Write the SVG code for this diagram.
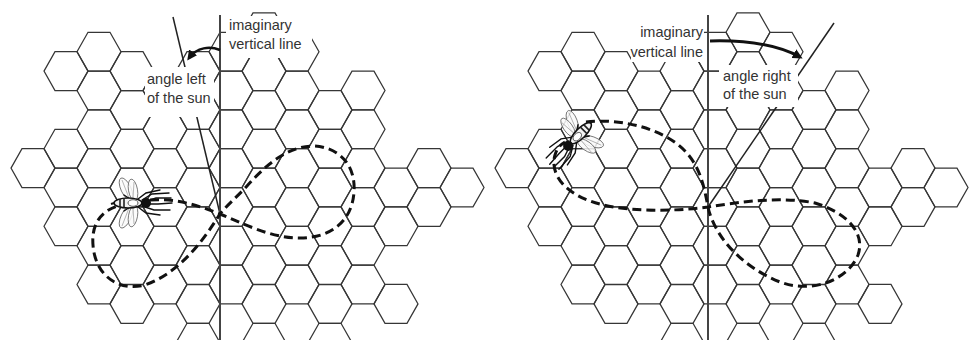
<svg xmlns="http://www.w3.org/2000/svg" xmlns:xlink="http://www.w3.org/1999/xlink" width="969" height="340" viewBox="0 0 969 340">
  <style>
    .cell { fill: none; stroke: #363636; stroke-width: 1.25; }
    .vline { stroke: #444; stroke-width: 2; fill: none; }
    .angle { stroke: #222; stroke-width: 1.5; fill: none; }
    .arrow { stroke: #111; fill: none; }
    .dance { stroke: #111; stroke-width: 3; fill: none; stroke-dasharray: 9 5; }
    .mask { fill: #fff; stroke: none; }
    .lbl { font-family: "Liberation Sans", Arial, sans-serif; font-size: 14.5px; fill: #333; }
    .wing { fill: #fafafa; fill-opacity: 0.85; stroke: #666; stroke-width: 0.8; }
    .leg { stroke: #111; stroke-width: 1.4; fill: none; stroke-linecap: round; }
  </style>
  <defs>
    <marker id="head" viewBox="0 0 10 10" refX="7" refY="5" markerWidth="10" markerHeight="10" markerUnits="userSpaceOnUse" orient="auto">
      <path d="M0,0 L10,5 L0,10 z" fill="#111"/>
    </marker>
    <!-- one flat-topped cell -->
    <path id="hex" d="M-22,0 L-11,-19.4 L11,-19.4 L22,0 L11,19.4 L-11,19.4 Z"/>
    <!-- the comb, column by column -->
    <g id="comb" class="cell">
      <use href="#hex" x="33" y="168.1"/>
      <use href="#hex" x="66" y="71.1"/><use href="#hex" x="66" y="148.7"/><use href="#hex" x="66" y="187.5"/><use href="#hex" x="66" y="226.3"/>
      <use href="#hex" x="99" y="51.7"/><use href="#hex" x="99" y="90.5"/><use href="#hex" x="99" y="129.3"/><use href="#hex" x="99" y="168.1"/><use href="#hex" x="99" y="206.9"/><use href="#hex" x="99" y="245.7"/><use href="#hex" x="99" y="284.5"/>
      <use href="#hex" x="132" y="71.1"/><use href="#hex" x="132" y="109.9"/><use href="#hex" x="132" y="148.7"/><use href="#hex" x="132" y="187.5"/><use href="#hex" x="132" y="226.3"/><use href="#hex" x="132" y="265.1"/><use href="#hex" x="132" y="303.9"/>
      <use href="#hex" x="165" y="90.5"/><use href="#hex" x="165" y="129.3"/><use href="#hex" x="165" y="168.1"/><use href="#hex" x="165" y="206.9"/><use href="#hex" x="165" y="245.7"/><use href="#hex" x="165" y="284.5"/>
      <use href="#hex" x="198" y="71.1"/><use href="#hex" x="198" y="109.9"/><use href="#hex" x="198" y="148.7"/><use href="#hex" x="198" y="187.5"/><use href="#hex" x="198" y="226.3"/><use href="#hex" x="198" y="265.1"/><use href="#hex" x="198" y="303.9"/><use href="#hex" x="198" y="342.7"/>
      <use href="#hex" x="231" y="51.7"/><use href="#hex" x="231" y="90.5"/><use href="#hex" x="231" y="129.3"/><use href="#hex" x="231" y="168.1"/><use href="#hex" x="231" y="206.9"/><use href="#hex" x="231" y="245.7"/><use href="#hex" x="231" y="284.5"/>
      <use href="#hex" x="264" y="32.3"/><use href="#hex" x="264" y="71.1"/><use href="#hex" x="264" y="109.9"/><use href="#hex" x="264" y="148.7"/><use href="#hex" x="264" y="187.5"/><use href="#hex" x="264" y="226.3"/><use href="#hex" x="264" y="265.1"/><use href="#hex" x="264" y="303.9"/><use href="#hex" x="264" y="342.7"/>
      <use href="#hex" x="297" y="51.7"/><use href="#hex" x="297" y="90.5"/><use href="#hex" x="297" y="129.3"/><use href="#hex" x="297" y="168.1"/><use href="#hex" x="297" y="206.9"/><use href="#hex" x="297" y="245.7"/><use href="#hex" x="297" y="284.5"/>
      <use href="#hex" x="330" y="109.9"/><use href="#hex" x="330" y="148.7"/><use href="#hex" x="330" y="187.5"/><use href="#hex" x="330" y="226.3"/><use href="#hex" x="330" y="265.1"/><use href="#hex" x="330" y="303.9"/><use href="#hex" x="330" y="342.7"/>
      <use href="#hex" x="363" y="90.5"/><use href="#hex" x="363" y="129.3"/><use href="#hex" x="363" y="168.1"/><use href="#hex" x="363" y="206.9"/><use href="#hex" x="363" y="245.7"/><use href="#hex" x="363" y="284.5"/>
      <use href="#hex" x="396" y="187.5"/><use href="#hex" x="396" y="226.3"/><use href="#hex" x="396" y="303.9"/>
      <use href="#hex" x="429" y="168.1"/><use href="#hex" x="429" y="206.9"/>
      <use href="#hex" x="462" y="187.5"/>
    </g>
    <!-- a worker bee, head towards +x, thorax at the origin -->
    <g id="bee">
      <ellipse class="wing" cx="-6" cy="-14" rx="12" ry="5" transform="rotate(65 -6 -14)"/>
      <ellipse class="wing" cx="1" cy="-13" rx="11" ry="4.5" transform="rotate(80 1 -13)"/>
      <ellipse class="wing" cx="-6" cy="14" rx="12" ry="5" transform="rotate(-65 -6 14)"/>
      <ellipse class="wing" cx="1" cy="13" rx="11" ry="4.5" transform="rotate(-80 1 13)"/>
      <path d="M-3,-5 L-10,-23 M1,-5 L2,-21 M-3,5 L-10,23 M1,5 L2,21" stroke="#888" stroke-width="0.6" fill="none"/>
      <path class="leg" d="M10,-3 L20,-9 L37,-10 M12,-1 L24,-5 L39,-5 M12,1 L26,1 L40,0 M10,3 L22,7 L38,7 M6,4 L14,10 L28,12 M6,-4 L14,-10 L28,-13 M-2,4 L-8,8 M-2,-4 L-8,-8"/>
      <ellipse cx="-4" cy="0" rx="14" ry="5" fill="#f2f2f2" stroke="#111" stroke-width="1.6"/>
      <path d="M-12,-4 L-12,4 M-8,-4.6 L-8,4.6" stroke="#222" stroke-width="1.6"/>
      <ellipse cx="1" cy="0" rx="5" ry="3.3" fill="#fff" stroke="#333" stroke-width="0.8"/>
      <ellipse cx="14" cy="0" rx="5" ry="5" fill="#111"/>
      <path d="M-18,0 L-21,1" stroke="#111" stroke-width="2"/>
    </g>
  </defs>

  <rect width="969" height="340" fill="#fff"/>

  <!-- left panel: angle left of the sun -->
  <g id="panel-left">
    <use href="#comb"/>
    <line id="sun-line-left" class="angle" x1="173" y1="17" x2="220" y2="214"/>
    <line id="vertical-left" class="vline" x1="220" y1="15" x2="220" y2="340"/>
    <g id="label-vertical-left">
      <rect class="mask" x="226" y="16" width="86" height="42"/>
      <text class="lbl" x="229" y="29.5">imaginary</text>
      <text class="lbl" x="229" y="49">vertical line</text>
    </g>
    <g id="label-angle-left">
      <rect class="mask" x="145" y="67" width="69" height="50"/>
      <text class="lbl" x="147" y="84">angle left</text>
      <text class="lbl" x="147" y="103">of the sun</text>
    </g>
    <g id="connectors-left">
      <path id="arc-left" class="arrow" stroke-width="2.5" d="M220,50 C210,46 197,47 189,58" marker-end="url(#head)"/>
      <path id="dance-left" class="dance" d="M150,200 C175,198 197,205 220,214 C245,224 270,238 300,238 C330,238 352,222 354,192 C356,162 336,147 314,146 C287,146 265,166 247,186 C236,198 228,204 220,214 C206,236 182,272 145,285 C118,292 95,275 93,245 C91,221 104,208 125,204"/>
    </g>
    <use id="bee-left" href="#bee" transform="translate(132,203)"/>
  </g>

  <!-- right panel: angle right of the sun -->
  <g id="panel-right">
    <use href="#comb" x="484"/>
    <line id="sun-line-right" class="angle" x1="834" y1="23" x2="708" y2="207"/>
    <line id="vertical-right" class="vline" x1="708" y1="15" x2="708" y2="340"/>
    <g id="label-vertical-right">
      <rect class="mask" x="631" y="22" width="73" height="40"/>
      <text class="lbl" x="703" y="37" text-anchor="end">imaginary</text>
      <text class="lbl" x="703" y="57" text-anchor="end">vertical line</text>
    </g>
    <g id="label-angle-right">
      <rect class="mask" x="719" y="65" width="79" height="42"/>
      <text class="lbl" x="723" y="81">angle right</text>
      <text class="lbl" x="723" y="99">of the sun</text>
    </g>
    <g id="connectors-right">
      <path id="arc-right" class="arrow" stroke-width="3" d="M710,41 C745,40 778,45 800,57" marker-end="url(#head)"/>
      <path id="dance-right" class="dance" d="M586,122 C620,118 662,128 684,150 C700,166 704,186 708,207 C714,235 740,266 780,282 C812,294 848,280 858,255 C866,232 845,212 815,203 C780,196 740,202 708,207 C670,212 620,212 590,201 C562,191 550,172 555,155 C557,148 560,145 565,142"/>
    </g>
    <use id="bee-right" href="#bee" transform="translate(578,136) rotate(135)"/>
  </g>
</svg>
